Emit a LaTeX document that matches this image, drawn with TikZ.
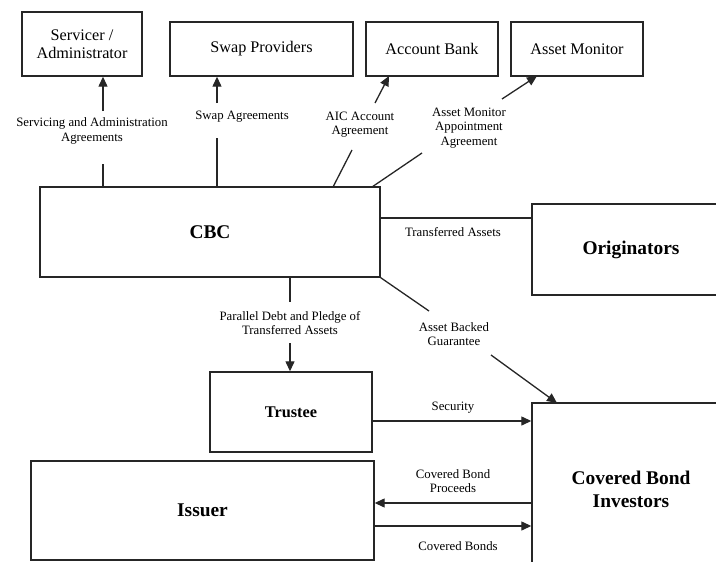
\documentclass[tikz,border=0pt]{standalone}
\usepackage{fontspec}
\setmainfont{Liberation Serif}
\usetikzlibrary{arrows.meta}
\begin{document}
\begin{tikzpicture}[x=1pt,y=-1pt,
  box/.style={draw=black!85,line width=1.4pt,inner sep=0pt,align=center},
  topbox/.style={box,font=\fontsize{16.2}{17.5}\selectfont},
  bigbox/.style={box,font=\fontsize{19.4}{23}\selectfont\bfseries},
  lbl/.style={align=center,inner sep=0pt,font=\fontsize{12.8}{14.2}\selectfont},
  conn/.style={line width=1.3pt,draw=black!85},
  arr/.style={conn,-{Triangle[length=10pt,width=9pt]}}]
\useasboundingbox (0,0) rectangle (716,562);
\clip (0,0) rectangle (716,562);
% boxes
\node[topbox,minimum width=120pt,minimum height=64pt] (serv) at (82,44) {Servicer /\\Administrator};
\node[topbox,minimum width=183pt,minimum height=54pt] (swap) at (261.5,49) {Swap Providers};
\node[topbox,minimum width=132pt,minimum height=54pt] (bank) at (432,49) {Account Bank};
\node[topbox,minimum width=132pt,minimum height=54pt] (mon) at (577,49) {Asset Monitor};
\node[bigbox,minimum width=340pt,minimum height=90pt] (cbc) at (210,232) {CBC};
\node[bigbox,minimum width=198pt,minimum height=91pt] (orig) at (631,249.5) {Originators};
\node[box,font=\fontsize{16.3}{18}\selectfont\bfseries,minimum width=162pt,minimum height=80pt] (trustee) at (291,412) {Trustee};
\node[bigbox,minimum width=343pt,minimum height=99pt] (issuer) at (202.5,510.5) {Issuer};
\node[bigbox,minimum width=198pt,minimum height=172pt] (cbi) at (631,489) {Covered Bond\\Investors};
% labels
\node[lbl] (lserv) at (92,131) {Servicing and Administration\\Agreements};
\node[lbl] (lswap) at (242,117) {Swap Agreements};
\node[lbl] (lbank) at (360,125) {AIC Account\\Agreement};
\node[lbl] (lmon) at (469,128) {Asset Monitor\\Appointment\\Agreement};
\node[lbl] (ltra) at (453,232) {Transferred Assets};
\node[lbl] (lpar) at (290,323) {Parallel Debt and Pledge of\\Transferred Assets};
\node[lbl] (labg) at (454,334) {Asset Backed\\Guarantee};
\node[lbl] (lsec) at (453,408) {Security};
\node[lbl] (lpro) at (453,481) {Covered Bond\\Proceeds};
\node[lbl] (lcb) at (458,546) {Covered Bonds};
% connector points
\coordinate (a1) at (103,164); \coordinate (a2) at (103,111);
\coordinate (b1) at (217,138); \coordinate (b2) at (217,103);
\coordinate (c0) at (333,187); \coordinate (c1) at (352,150);
\coordinate (c2) at (375,103); \coordinate (c3) at (389,76);
\coordinate (d0) at (372,187); \coordinate (d1) at (422,153);
\coordinate (d2) at (502,99); \coordinate (d3) at (537,76);
\coordinate (e0) at (380,218);
\coordinate (f1) at (290,302); \coordinate (f2) at (290,343);
\coordinate (g1) at (429,311); \coordinate (g2) at (491,355); \coordinate (g3) at (557,403);
\coordinate (h0) at (372,421);
\coordinate (i0) at (450,503);
\coordinate (j0) at (450,526);
% connectors
\draw[conn] (a1 |- cbc.north) -- (a1);
\draw[arr] (a2) -- (a2 |- serv.south);
\draw[conn] (b1 |- cbc.north) -- (b1);
\draw[arr] (b2) -- (b2 |- swap.south);
\draw[conn] (c0) -- (c1);
\draw[arr] (c2) -- (c3);
\draw[conn] (d0) -- (d1);
\draw[arr] (d2) -- (d3);
\draw[conn] (e0 -| cbc.east) -- (e0 -| orig.west);
\draw[conn] (f1 |- cbc.south) -- (f1);
\draw[arr] (f2) -- (f2 |- trustee.north);
\draw[conn] (cbc.south east) -- (g1);
\draw[arr] (g2) -- (g3);
\draw[arr] (h0 -| trustee.east) -- (h0 -| cbi.west);
\draw[arr] (i0 -| cbi.west) -- (i0 -| issuer.east);
\draw[arr] (j0 -| issuer.east) -- (j0 -| cbi.west);
\end{tikzpicture}
\end{document}
